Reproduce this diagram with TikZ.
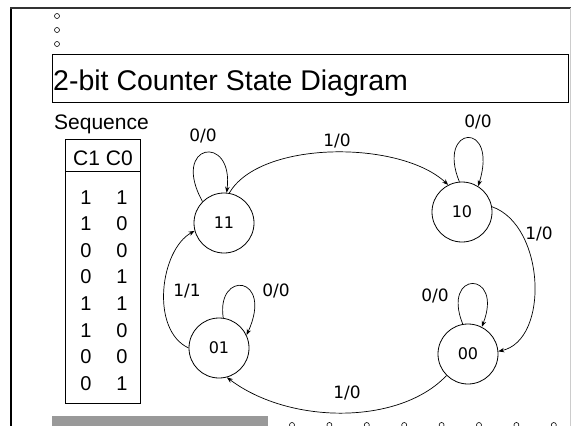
\documentclass[tikz,border=0pt]{standalone}
\usepackage{fontspec}
\setmainfont{Liberation Sans}
\newfontfamily\edgefont{DejaVu Sans}
\usetikzlibrary{arrows.meta}
\tikzset{
    state/.style={draw, circle, minimum size=60pt, inner sep=0pt, line width=0.8pt,
        font=\edgefont\fontsize{16}{19}\selectfont},
    trans/.style={->, line width=0.7pt},
    lbl/.style={inner sep=0pt, font=\edgefont\fontsize{17}{20}\selectfont},
    cell/.style={anchor=base, inner sep=0pt, font=\fontsize{20}{24}\selectfont},
    dot/.style={draw, circle, minimum size=5pt, inner sep=0pt, line width=0.6pt},
}

\begin{document}
\begin{tikzpicture}[x=1pt, y=-1pt, >={Stealth[length=6pt,width=4.5pt]}]
\useasboundingbox (0,0) rectangle (571,426);
\draw[line width=2.5pt] (11,430)--(11,8);
\draw[line width=2.2pt, black!80] (10,8)--(571,8);
\draw[black!20] (570,8)--(570,430);
\foreach \y in {16,30,44} {
\node[dot] (top\y) at (57,\y) {};
}
\draw[line width=1pt] (52,54) rectangle (568,102);
\node[anchor=base west, inner sep=0pt, font=\fontsize{28.5}{34}\selectfont] (title) at (53,90) {2-bit Counter State Diagram};
\node[anchor=base west, inner sep=0pt, font=\fontsize{21}{25}\selectfont] (seq) at (54,129) {Sequence};
\draw[line width=0.8pt] (65,139) rectangle (140,403);
\draw[line width=0.8pt] (65,171) -- (140,171);
\node[cell, font=\fontsize{21}{25}\selectfont] (head) at (103,165) {C1 C0};
\foreach \a/\b [count=\i from 0] in {1/1,1/0,0/0,0/1,1/1,1/0,0/0,0/1} {
\node[cell] (ca\i) at (86,{204+26.6*\i}) {\a};
\node[cell] (cb\i) at (122,{204+26.6*\i}) {\b};
}
\fill[black!40] (52,416) rectangle (268,430);
\foreach \k in {0,...,7} {
\node[dot] (bot\k) at ({292+37.4*\k},425) {};
}
\node[state] (s11) at (224,223) {11};
\node[state] (s10) at (462,212) {10};
\node[state] (s01) at (219,348) {01};
\node[state] (s00) at (468,354) {00};
\draw[trans] (s11.80) .. controls (260,140) and (400,140) .. (s10.117);
\draw[trans] (s10.10) .. controls (545,225) and (550,340) .. (s00.5);
\draw[trans] (s00.225) .. controls (400,425) and (290,425) .. (s01.285);
\draw[trans] (s01.180) .. controls (150,330) and (160,250) .. (s11.195);
\draw[trans] (s11.135) .. controls (170,143) and (234,133) .. (s11.85);
\draw[trans] (s10.95) .. controls (436,125) and (499,120) .. (s10.58);
\draw[trans] (s01.82) .. controls (216,270) and (274,275) .. (s01.25);
\draw[trans] (s00.100) .. controls (441,270) and (504,270) .. (s00.63);
\node[lbl] (l1) at (337,141) {1/0};
\node[lbl] (l2) at (539,234) {1/0};
\node[lbl] (l3) at (347,393) {1/0};
\node[lbl] (l4) at (187,291) {1/1};
\node[lbl] (l5) at (203,136) {0/0};
\node[lbl] (l6) at (478,122) {0/0};
\node[lbl] (l7) at (276,291) {0/0};
\node[lbl] (l8) at (435,296) {0/0};
\end{tikzpicture}
\end{document}
